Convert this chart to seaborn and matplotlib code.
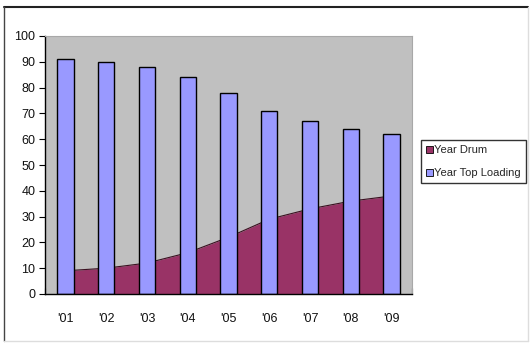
import matplotlib
matplotlib.use("Agg")
import matplotlib.pyplot as plt
from matplotlib.patches import Patch
from matplotlib.lines import Line2D
import seaborn as sns
import pandas as pd
import numpy as np

# Market share by year (%)
years = ["'01", "'02", "'03", "'04", "'05", "'06", "'07", "'08", "'09"]
drum = [9, 10, 12, 16, 22, 29, 33, 36, 38]
top_loading = [91, 90, 88, 84, 78, 71, 67, 64, 62]
y_ticks = [0, 10, 20, 30, 40, 50, 60, 70, 80, 90, 100]

sns.set_theme(style="white")
plt.rcParams["font.family"] = ["Liberation Sans", "DejaVu Sans"]

DRUM_COLOR = "#993366"
TOP_COLOR = "#9999FF"
BG_COLOR = "#C0C0C0"

fig = plt.figure(figsize=(5.31, 3.43), dpi=100)
fig.patch.set_facecolor("white")
ax = fig.add_axes([45 / 531, 49 / 343, 367 / 531, 258 / 343])
ax.set_facecolor(BG_COLOR)

df = pd.DataFrame({"year": years, "drum": drum, "top": top_loading})
pos = np.arange(len(years))

# Drum share as an area behind the columns
ax.fill_between(pos, 0, df["drum"], color=DRUM_COLOR, linewidth=0, zorder=1)
ax.plot(pos, df["drum"], color="#3a1020", linewidth=0.8, zorder=1.5)

# Top-loading share as columns
sns.barplot(data=df, x="year", y="top", ax=ax, color=TOP_COLOR, width=0.4,
            edgecolor="black", linewidth=1.0, saturation=1, zorder=2)

ax.set_xlim(-0.5, len(years) - 0.5)
ax.set_ylim(0, 100)
ax.set_yticks(y_ticks)
ax.set_xlabel("")
ax.set_ylabel("")

# Category labels centred, tick marks at category boundaries pointing inward
ax.set_xticks(pos, minor=True)
ax.set_xticklabels(years, minor=True)
ax.set_xticks(np.arange(-0.5, len(years) + 0.5, 1.0))
ax.set_xticklabels([])
ax.tick_params(axis="x", which="major", direction="in", length=4, width=0.8,
               color="black", bottom=True)
ax.tick_params(axis="x", which="minor", length=0, pad=14, labelsize=9,
               labelcolor="#111111")
ax.tick_params(axis="y", direction="out", length=4, width=0.8, color="black",
               left=True, pad=3, labelsize=9, labelcolor="#111111")

for side in ("top", "right"):
    ax.spines[side].set_color("#A8A8A8")
    ax.spines[side].set_linewidth(0.8)
for side in ("left", "bottom"):
    ax.spines[side].set_color("black")
    ax.spines[side].set_linewidth(1.0)

handles = [Patch(facecolor=DRUM_COLOR, edgecolor="black", linewidth=0.6, label="Year Drum"),
           Patch(facecolor=TOP_COLOR, edgecolor="black", linewidth=0.6, label="Year Top Loading")]
leg = fig.legend(handles=handles, loc="upper left",
                 bbox_to_anchor=(421 / 531, 1 - 140 / 343),
                 frameon=True, fancybox=False, fontsize=8,
                 handlelength=0.6, handleheight=0.6, handletextpad=0.15,
                 borderpad=0.45, labelspacing=1.2, borderaxespad=0)
leg.get_frame().set_edgecolor("black")
leg.get_frame().set_linewidth(1.0)

# Outer chart frame
fig.add_artist(Line2D([4 / 531, 528 / 531], [1 - 7 / 343] * 2, color="#222222", lw=1.5))
fig.add_artist(Line2D([4 / 531] * 2, [1 - 7 / 343, 1 - 341 / 343], color="#444444", lw=1.0))
fig.add_artist(Line2D([528 / 531] * 2, [1 - 7 / 343, 1 - 341 / 343], color="#DDDDDD", lw=1.0))
fig.add_artist(Line2D([4 / 531, 528 / 531], [1 - 341 / 343] * 2, color="#DDDDDD", lw=1.0))

fig.savefig("out.png", dpi=100, facecolor="white")
